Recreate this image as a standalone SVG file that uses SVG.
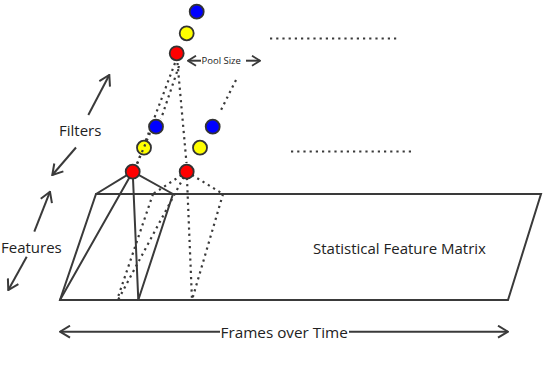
<svg xmlns="http://www.w3.org/2000/svg" width="546" height="372" viewBox="0 0 546 372">
<style>
.ln{stroke:#3a3a3a;stroke-width:2;fill:none;stroke-linecap:round}
.dt{stroke:#3a3a3a;stroke-width:2.2;fill:none;stroke-dasharray:2.2 4}
.ar{stroke:#3a3a3a;stroke-width:2;fill:none}
.nd{stroke:#333;stroke-width:1.8}
.r{fill:#ff0000}.y{fill:#ffff00}.b{fill:#0000ff}
.t{font-family:"Open Sans","Noto Sans",sans-serif;fill:#222}
</style>
<defs>
<marker id="ah" viewBox="0 0 12 14" refX="11" refY="7" markerUnits="userSpaceOnUse" markerWidth="12" markerHeight="14" orient="auto-start-reverse">
<path d="M1,1 L11,7 L1,13" fill="none" stroke="#3a3a3a" stroke-width="2"/>
</marker>
<marker id="ahs" viewBox="0 0 10 12" refX="9" refY="6" markerUnits="userSpaceOnUse" markerWidth="10" markerHeight="12" orient="auto-start-reverse">
<path d="M1,1 L9,6 L1,11" fill="none" stroke="#3a3a3a" stroke-width="1.8"/>
</marker>
</defs>
<rect width="546" height="372" fill="#fff"/>
<g id="matrix">
<polygon class="ln" points="96,194 541,194 508,300 60,300"/>
<text class="t" x="313" y="253.5" font-size="15">Statistical Feature Matrix</text>
</g>
<g id="connectors">
<line class="ln" x1="132.7" y1="171.7" x2="96" y2="194"/>
<line class="ln" x1="132.7" y1="171.7" x2="60" y2="300"/>
<line class="ln" x1="132.7" y1="171.7" x2="138.3" y2="300"/>
<line class="ln" x1="132.7" y1="171.7" x2="173" y2="194"/>
<line class="ln" x1="173" y1="194" x2="138.3" y2="300"/>
<line class="dt" x1="186.7" y1="171.7" x2="153" y2="194"/>
<line class="dt" x1="186.7" y1="171.7" x2="223" y2="194"/>
<line class="dt" x1="186.7" y1="171.7" x2="192" y2="300"/>
<line class="dt" x1="186.7" y1="171.7" x2="118" y2="300"/>
<line class="dt" x1="153" y1="194" x2="117" y2="300"/>
<line class="dt" x1="223" y1="194" x2="192" y2="300"/>
<line class="dt" x1="175" y1="63" x2="137" y2="164"/>
<line class="dt" x1="179" y1="66" x2="161" y2="119"/>
<line class="dt" x1="177.5" y1="63" x2="186.5" y2="163"/>
<line class="dt" x1="236" y1="80" x2="220" y2="112"/>
<line class="dt" x1="270" y1="38.5" x2="398" y2="38.5"/>
<line class="dt" x1="291" y1="151.5" x2="414" y2="151.5"/>
</g>
<g id="label-filters">
<line class="ar" x1="88.3" y1="115" x2="109.3" y2="75" marker-end="url(#ah)"/>
<line class="ar" x1="76" y1="147.5" x2="52.3" y2="175" marker-end="url(#ah)"/>
<text class="t" x="59" y="136" font-size="15">Filters</text>
</g>
<g id="label-features">
<line class="ar" x1="34.3" y1="231.7" x2="50" y2="191.7" marker-end="url(#ah)"/>
<line class="ar" x1="26.7" y1="256.7" x2="8.3" y2="290" marker-end="url(#ah)"/>
<text class="t" x="1" y="253" font-size="15">Features</text>
</g>
<g id="label-frames">
<line class="ar" x1="220" y1="331.7" x2="60" y2="331.7" marker-end="url(#ah)"/>
<line class="ar" x1="349" y1="331.7" x2="508" y2="331.7" marker-end="url(#ah)"/>
<text class="t" x="220.5" y="337.5" font-size="15.3">Frames over Time</text>
</g>
<g id="label-pool">
<line class="ar" x1="201" y1="60.7" x2="188" y2="60.7" stroke-width="1.8" marker-end="url(#ahs)"/>
<line class="ar" x1="246" y1="60.7" x2="260" y2="60.7" stroke-width="1.8" marker-end="url(#ahs)"/>
<text class="t" x="201.5" y="64.2" font-size="9.5">Pool Size</text>
</g>
<g id="top-blue"><circle class="nd b" cx="196.7" cy="11.7" r="7"/></g>
<g id="top-yellow"><circle class="nd y" cx="186.7" cy="33.3" r="7"/></g>
<g id="top-red"><circle class="nd r" cx="176.7" cy="53.3" r="7"/></g>
<g id="mid-left-blue"><circle class="nd b" cx="156" cy="126.7" r="7"/></g>
<g id="mid-left-yellow"><circle class="nd y" cx="144" cy="147.7" r="7"/></g>
<g id="left-red"><circle class="nd r" cx="132.7" cy="171.7" r="7"/></g>
<g id="mid-right-blue"><circle class="nd b" cx="212.7" cy="126.7" r="7"/></g>
<g id="mid-right-yellow"><circle class="nd y" cx="200" cy="147.7" r="7"/></g>
<g id="right-red"><circle class="nd r" cx="186.7" cy="171.7" r="7"/></g>
<g id="overlay-dots">
<line class="dt" x1="150" y1="133" x2="137" y2="164"/>
</g>
</svg>
